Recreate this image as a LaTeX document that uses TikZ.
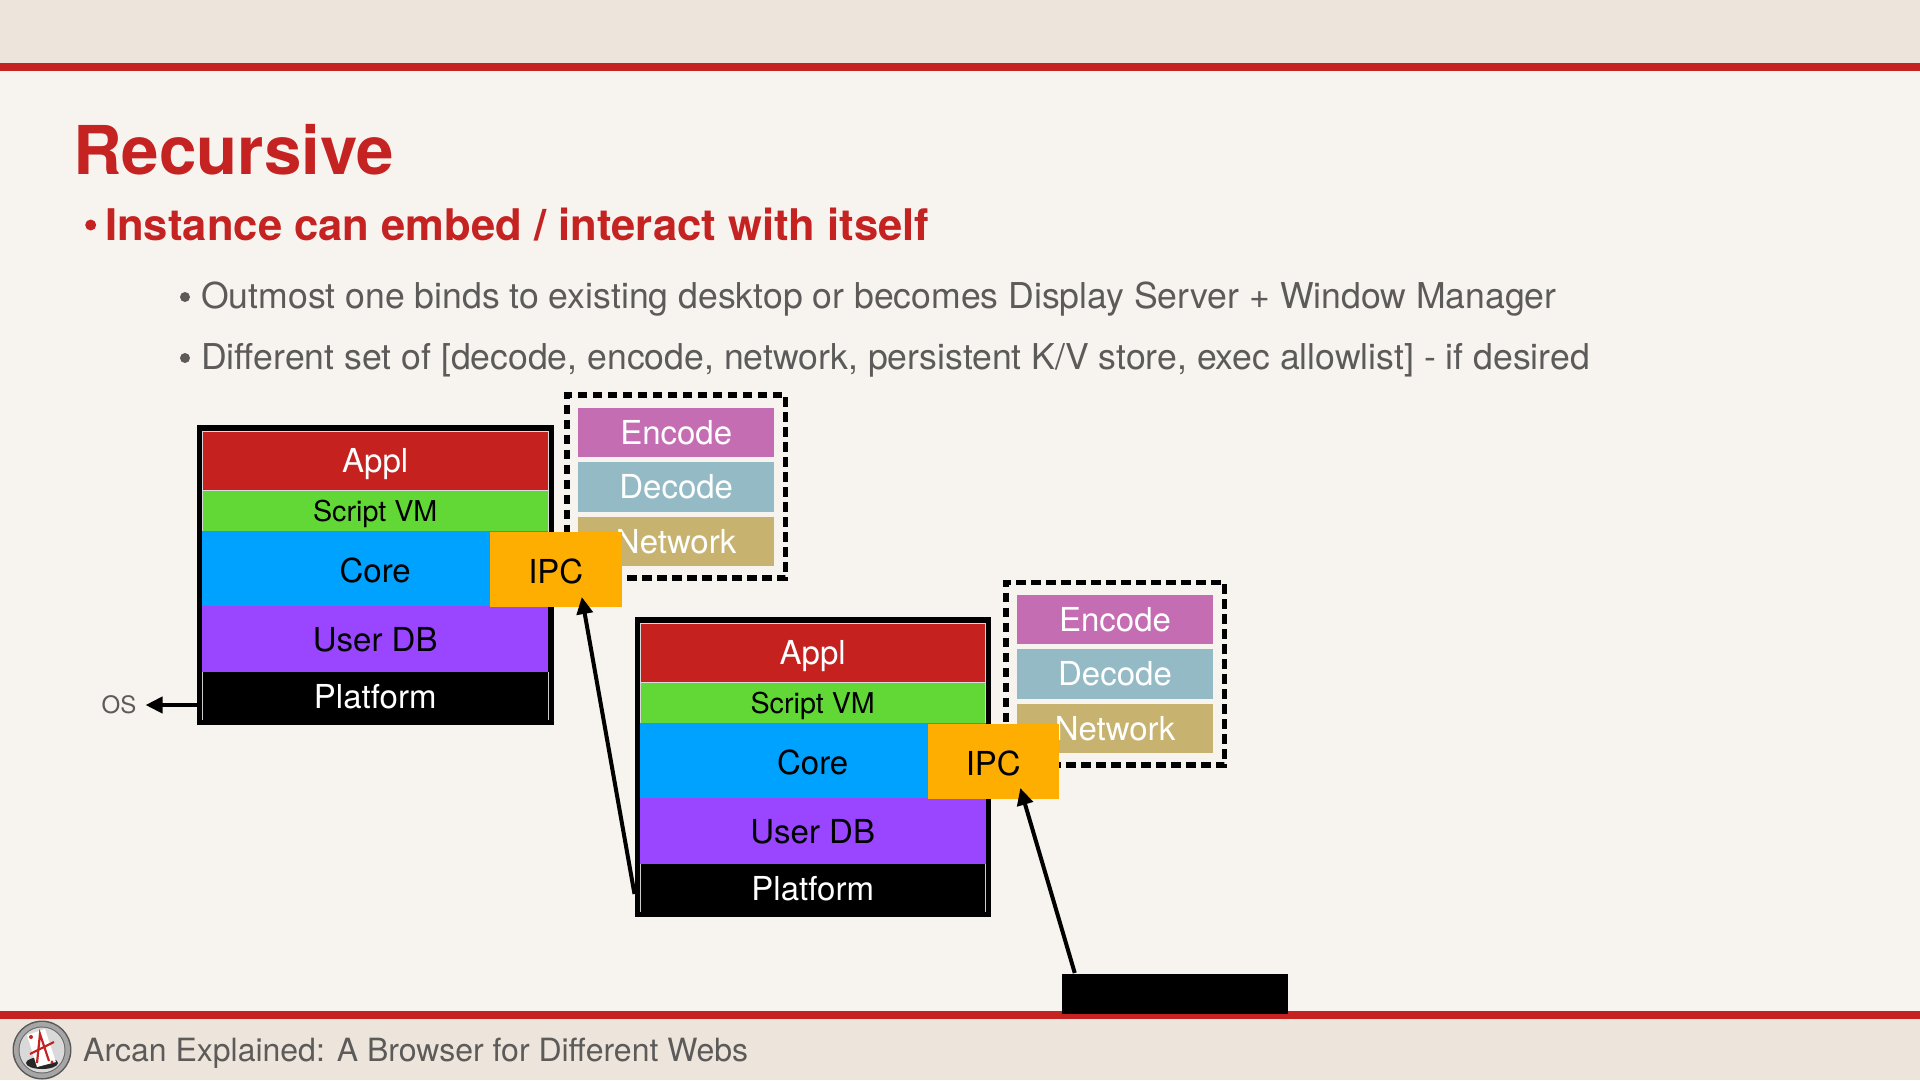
\documentclass[tikz,border=0pt]{standalone}
\usepackage{fontspec}
\setmainfont{TeX Gyre Heros}
\usetikzlibrary{arrows.meta}
\definecolor{pagebg}{HTML}{F7F4EF}
\definecolor{barbg}{HTML}{EDE5DB}
\definecolor{slidered}{HTML}{C52222}
\definecolor{bodygrey}{HTML}{5C5B5A}
\definecolor{cappl}{HTML}{C4211F}
\definecolor{cscript}{HTML}{61D836}
\definecolor{ccore}{HTML}{00A2FF}
\definecolor{cuser}{HTML}{9A45FF}
\definecolor{cipc}{HTML}{FEAE00}
\definecolor{cenc}{HTML}{C56DB3}
\definecolor{cdec}{HTML}{94BBC5}
\definecolor{cnet}{HTML}{C7B36F}
\newcommand{\fs}[1]{\fontsize{#1}{#1}\selectfont}
\newcommand{\bandnode}[7]{%
  \pgfmathsetmacro\bw{#5-#3}\pgfmathsetmacro\bh{#6-#4}%
  \pgfmathsetmacro\cx{(#3+#5)/2}\pgfmathsetmacro\cy{(#4+#6)/2}%
  \node[#2,minimum width=\bw pt,minimum height=\bh pt] (#1) at (\cx,\cy) {#7};}
\tikzset{
  band/.style={inner sep=0pt,outer sep=0pt,text height=24pt,text depth=0pt,font=\fs{33}},
  bandline/.style={draw=white!85!black,line width=0.8pt},
  applband/.style={band,bandline,fill=cappl,text=white},
  scriptband/.style={band,bandline,fill=cscript,text=black,font=\fs{28.7},text height=21pt},
  coreband/.style={band,fill=ccore,text=black,text height=27pt},
  userband/.style={band,fill=cuser,text=black},
  platband/.style={band,fill=black,text=white},
  ipcband/.style={band,fill=cipc,text=black,text height=27pt},
  encband/.style={band,fill=cenc,text=white},
  decband/.style={band,fill=cdec,text=white},
  netband/.style={band,fill=cnet,text=white},
  frameband/.style={band,fill=black},
  dashedframe/.style={band,draw=black,line width=5.5pt,dash pattern=on 9.5pt off 5.5pt},
  conn/.style={draw=black,line width=4pt,-{Triangle[length=17pt,width=16pt]}},
  titletext/.style={anchor=base west,inner sep=0pt,text=slidered},
  bodytext/.style={anchor=base west,inner sep=0pt,text=bodygrey,font=\fs{35.6}},
  edgeline/.style={draw=white!80!black,line width=0.8pt},
}
\begin{document}
\begin{tikzpicture}[x=1pt,y=-1pt]
\useasboundingbox (0,0) rectangle (1920,1080);
\fill[pagebg] (0,0) rectangle (1920,1080);
\fill[barbg] (0,0) rectangle (1920,64);
\fill[barbg] (0,1018) rectangle (1920,1080);
\fill[slidered] (0,63) rectangle (1920,71);
\fill[slidered] (0,1011) rectangle (1920,1019);
% texts
\node[titletext,font=\bfseries\fs{67.3}] (title) at (73,174) {Recursive};
\node[titletext,font=\bfseries\fs{43.6}] (lead) at (105,240) {Instance can embed / interact with itself};
\fill[slidered] (90.7,225) circle (5.5);
\node[bodytext] (sub1) at (201,308.5) {Outmost one binds to existing desktop or becomes Display Server + Window Manager};
\fill[bodygrey] (185,297) circle (5);
\node[bodytext] (sub2) at (201,369.5) {Different set of [decode, encode, network, persistent K/V store, exec allowlist] - if desired};
\fill[bodygrey] (185,358) circle (5);
\node[anchor=base west,inner sep=0pt,text=bodygrey,font=\fs{32}] (foot) at (83,1061) {Arcan Explained: A Browser for Different Webs};
% logo
\fill[black!65] (42,1050) circle (29.5);
\fill[black!35] (42,1050) circle (28);
\fill[black!60] (42,1050) circle (23.5);
\fill[black!15] (42,1050) circle (22.5);
\fill[black!85] (42,1063) ellipse (16 and 6);
\fill[white] (27,1035) -- (45,1029) -- (56,1062) -- (37,1067) -- cycle;
\draw[slidered,line width=2.2pt] (37,1063) -- (40,1034) -- (49,1061) (30,1054) -- (54,1042);
\fill[slidered] (31,1037) circle (2);
\fill[slidered] (52,1062) circle (1.6);
% first instance, option set
\bandnode{dash1}{dashedframe}{567}{395}{785.7}{578}{}
\bandnode{enc1}{encband}{578.4}{407.7}{774}{457}{Encode}
\bandnode{dec1}{decband}{578.4}{462}{774}{511.7}{Decode}
\bandnode{net1}{netband}{578.4}{516.7}{774}{566}{Network}
\bandnode{box1}{frameband}{197}{425}{553.5}{725}{}
\bandnode{appl1}{applband}{202.4}{431}{548}{490}{Appl}
\bandnode{script1}{scriptband}{202.4}{490}{548}{531}{Script VM}
\bandnode{core1}{coreband}{202.4}{531}{548}{606}{Core}
\bandnode{user1}{userband}{202.4}{606}{548}{672}{User DB}
\bandnode{plat1}{platband}{202.4}{672}{548}{720}{Platform}
\draw[edgeline] (plat1.north east) -- (plat1.south east);
\draw[edgeline] (plat1.north west) -- (plat1.south west);
\bandnode{ipc1}{ipcband}{490}{532}{621.6}{607}{IPC}
% second instance, option set
\bandnode{dash2}{dashedframe}{1006}{582.3}{1224.5}{765}{}
\bandnode{enc2}{encband}{1017}{594.7}{1213}{644}{Encode}
\bandnode{dec2}{decband}{1017}{649}{1213}{698.7}{Decode}
\bandnode{net2}{netband}{1017}{703.7}{1213}{753}{Network}
\bandnode{box2}{frameband}{634.5}{617}{990.5}{917}{}
\bandnode{appl2}{applband}{639.9}{623}{985.5}{682}{Appl}
\bandnode{script2}{scriptband}{639.9}{682}{985.5}{723}{Script VM}
\bandnode{core2}{coreband}{639.9}{723}{985.5}{798}{Core}
\bandnode{user2}{userband}{639.9}{798}{985.5}{864}{User DB}
\bandnode{plat2}{platband}{639.9}{864}{985.5}{912}{Platform}
\draw[edgeline] (plat2.north east) -- (plat2.south east);
\draw[edgeline] (plat2.north west) -- (plat2.south west);
\bandnode{ipc2}{ipcband}{927.6}{724}{1059}{799}{IPC}
% black box
\bandnode{blk}{frameband}{1061.5}{974}{1288}{1013.7}{}
% OS
\node[inner sep=0pt,text=bodygrey,font=\fs{24}] (os) at (119,705) {OS};
% connectors
\draw[conn] ([shift={(5,130)}]box1.west) -- ([xshift=9pt]os.east);
\draw[conn] ([shift={(0,127)}]box2.west) -- ([shift={(26,-10)}]ipc1.south);
\draw[conn] ([shift={(-100,-1)}]blk.north) -- ([shift={(27,-11)}]ipc2.south);
\end{tikzpicture}
\end{document}
